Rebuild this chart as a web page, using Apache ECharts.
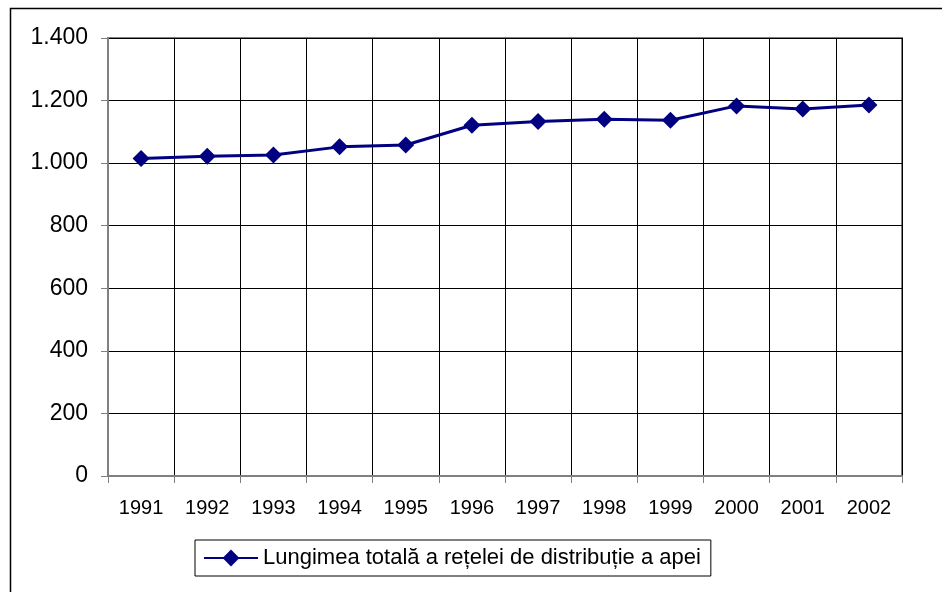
<!DOCTYPE html>
<html>
<head>
<meta charset="utf-8">
<script src="https://cdn.jsdelivr.net/npm/echarts@6/dist/echarts.min.js"></script>
<style>
  html, body { margin: 0; padding: 0; background: #fff; }
  #chart { width: 942px; height: 592px; }
</style>
</head>
<body>
<div id="chart"></div>
<script>
  // date
  const years = ['1991', '1992', '1993', '1994', '1995', '1996', '1997', '1998', '1999', '2000', '2001', '2002'];
  const lungime = [1015, 1022, 1026, 1052, 1058, 1121, 1133, 1140, 1137, 1183, 1173, 1186];
  const seriesName = 'Lungimea totală a rețelei de distribuție a apei';

  const font = '"Liberation Sans", Arial, sans-serif';
  let myChart = echarts.init(document.getElementById('chart'));
  let option = {
    animation: false,
    backgroundColor: '#fff',
    textStyle: { fontFamily: font },
    graphic: [{
      type: 'rect',
      shape: { x: 10.5, y: 8.5, width: 960, height: 620 },
      style: { fill: 'none', stroke: '#000', lineWidth: 1.5 },
      silent: true
    }],
    grid: {
      left: 108, top: 38, right: 40, bottom: 116,
      show: true, borderColor: '#808080', borderWidth: 2
    },
    legend: {
      data: [seriesName],
      left: 195, top: 540,
      itemWidth: 54, itemHeight: 21, itemGap: 4,
      padding: [7, 10, 7, 8],
      borderColor: '#000', borderWidth: 1,
      textStyle: { fontSize: 22, color: '#000', fontFamily: font }
    },
    xAxis: {
      type: 'category',
      data: years,
      boundaryGap: true,
      axisLine: { lineStyle: { color: '#808080', width: 2 } },
      axisTick: { show: true, length: 7, interval: 0, lineStyle: { color: '#808080' } },
      axisLabel: { fontSize: 20, color: '#000', margin: 22, interval: 0, fontFamily: font },
      splitLine: { show: true, interval: 0, lineStyle: { color: '#000', width: 1 } }
    },
    yAxis: {
      type: 'value',
      min: 0, max: 1400, interval: 200,
      axisLine: { show: true, lineStyle: { color: '#808080', width: 2 } },
      axisTick: { show: true, length: 7, lineStyle: { color: '#808080' } },
      axisLabel: {
        fontSize: 23, color: '#000', margin: 20, fontFamily: font,
        formatter: v => v >= 1000 ? Math.floor(v / 1000) + '.' + String(v % 1000).padStart(3, '0') : String(v)
      },
      splitLine: { show: true, lineStyle: { color: '#000', width: 1 } }
    },
    series: [{
      name: seriesName,
      type: 'line',
      data: lungime,
      symbol: 'diamond',
      symbolSize: 17,
      lineStyle: { color: '#000080', width: 3 },
      itemStyle: { color: '#000080' }
    }]
  };
  myChart.setOption(option);
</script>
</body>
</html>
